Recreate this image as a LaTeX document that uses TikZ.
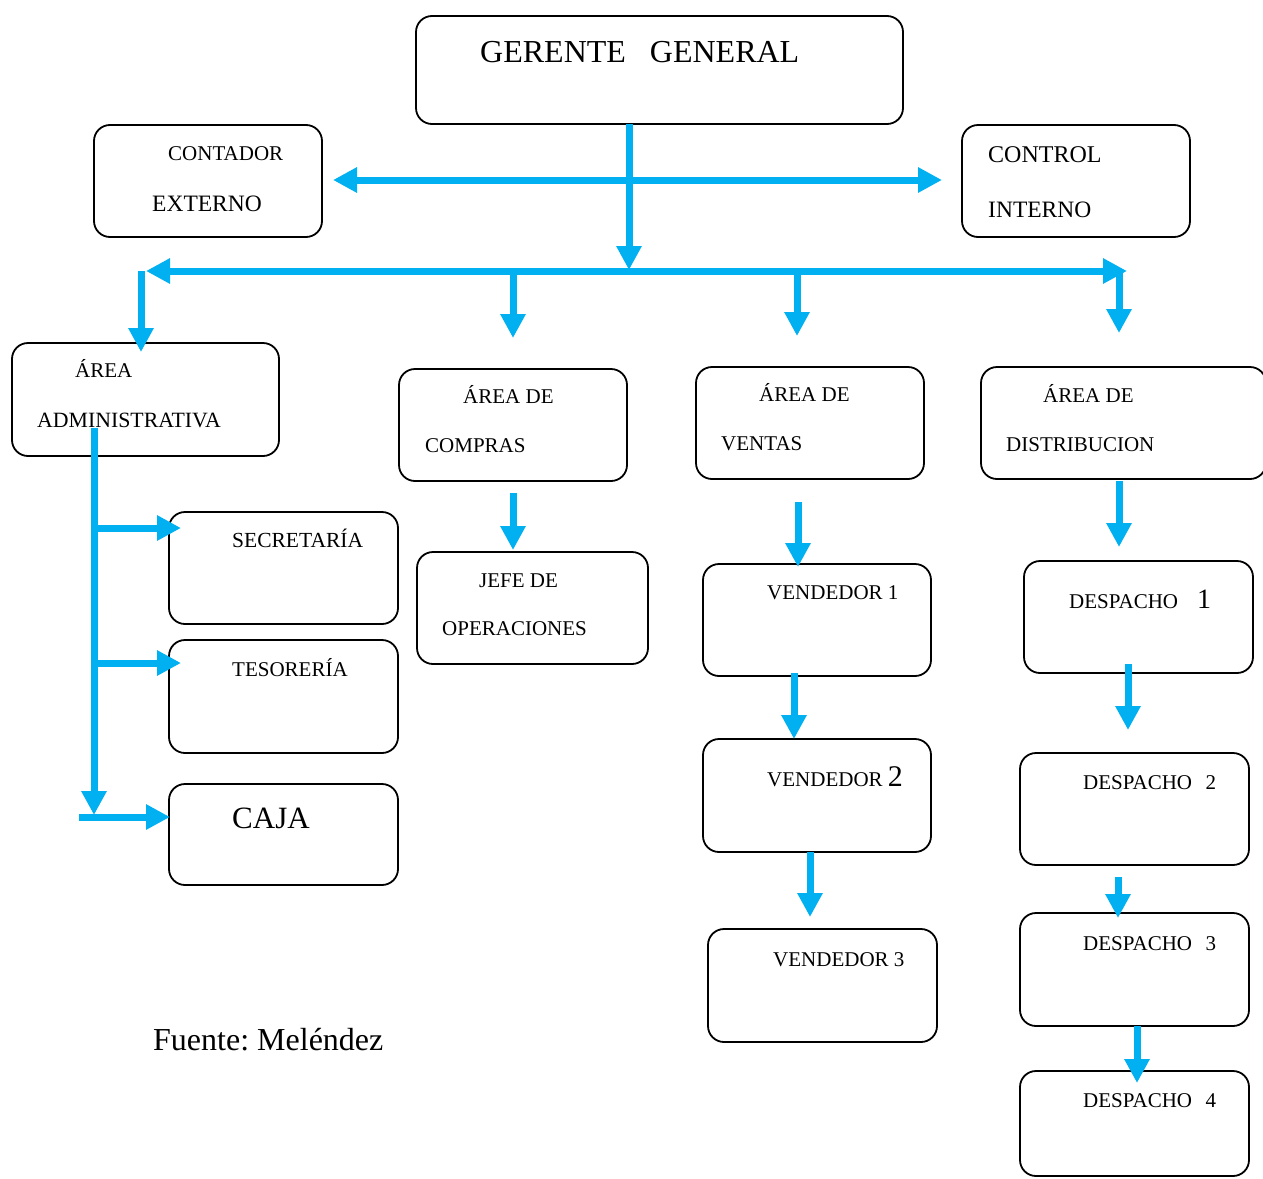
\documentclass[tikz,border=0pt]{standalone}
\usepackage{fontspec}
\setmainfont{Liberation Serif}
\usetikzlibrary{arrows.meta}
\definecolor{arrcol}{HTML}{00B0F0}
\frenchspacing
\begin{document}
\begin{tikzpicture}[x=1pt,y=-1pt,
  box/.style={draw=black, line width=1.8pt, rounded corners=16pt, inner sep=0pt},
  lab/.style={anchor=base west, inner sep=0pt, font=\fontsize{21}{25}\selectfont},
  arr/.style={draw=arrcol, line width=7pt, -{Triangle[length=24pt,width=24pt]}},
  darr/.style={draw=arrcol, line width=7pt, {Triangle[length=24pt,width=24pt]}-{Triangle[length=24pt,width=24pt]}}]
\useasboundingbox (0,0) rectangle (1263,1178);
% boxes
\node[box, minimum width=487pt, minimum height=108pt] (ger)  at (659.5,70) {};
\node[box, minimum width=228pt, minimum height=112pt] (cont) at (208,181) {};
\node[box, minimum width=228pt, minimum height=112pt] (ctrl) at (1076,181) {};
\node[box, minimum width=267pt, minimum height=113pt] (adm)  at (145.5,399.5) {};
\node[box, minimum width=228pt, minimum height=112pt] (comp) at (513,425) {};
\node[box, minimum width=228pt, minimum height=112pt] (vent) at (810,423) {};
\node[box, minimum width=285pt, minimum height=112pt] (dist) at (1123.5,423) {};
\node[box, minimum width=229pt, minimum height=112pt] (sec)  at (283.5,568) {};
\node[box, minimum width=229pt, minimum height=113pt] (tes)  at (283.5,696.5) {};
\node[box, minimum width=229pt, minimum height=101pt] (caja) at (283.5,834.5) {};
\node[box, minimum width=231pt, minimum height=112pt] (jefe) at (532.5,608) {};
\node[box, minimum width=228pt, minimum height=112pt] (va)   at (817,620) {};
\node[box, minimum width=228pt, minimum height=113pt] (vb)   at (817,795.5) {};
\node[box, minimum width=229pt, minimum height=113pt] (vc)   at (822.5,985.5) {};
\node[box, minimum width=229pt, minimum height=112pt] (da)   at (1138.5,617) {};
\node[box, minimum width=229pt, minimum height=112pt] (db)   at (1134.5,809) {};
\node[box, minimum width=229pt, minimum height=113pt] (dc)   at (1134.5,969.5) {};
\node[box, minimum width=229pt, minimum height=105pt] (dd)   at (1134.5,1123.5) {};
% texts
\node[lab, font=\fontsize{32}{38}\selectfont] (tger) at (480,62) {GERENTE~~~GENERAL};
\node[lab] (tcont1) at (168,160) {CONTADOR};
\node[lab, font=\fontsize{23.5}{28}\selectfont] (tcont2) at (152,211) {EXTERNO};
\node[lab, font=\fontsize{24}{28}\selectfont] (tctrl1) at (988,162) {CONTROL};
\node[lab, font=\fontsize{23.5}{28}\selectfont] (tctrl2) at (988,217) {INTERNO};
\node[lab] (tadm1) at (75,377) {ÁREA};
\node[lab, font=\fontsize{21.8}{26}\selectfont] (tadm2) at (37,427) {ADMINISTRATIVA};
\node[lab] (tcomp1) at (463,403) {ÁREA DE};
\node[lab] (tcomp2) at (425,452) {COMPRAS};
\node[lab] (tvent1) at (759,401) {ÁREA DE};
\node[lab] (tvent2) at (721,450) {VENTAS};
\node[lab] (tdist1) at (1043,402) {ÁREA DE};
\node[lab] (tdist2) at (1006,451) {DISTRIBUCION};
\node[lab, font=\fontsize{21.5}{25}\selectfont] (tsec) at (232,547) {SECRETARÍA};
\node[lab] (ttes) at (232,676) {TESORERÍA};
\node[lab, font=\fontsize{31}{36}\selectfont] (tcaja) at (232,828) {CAJA};
\node[lab] (tjefe1) at (479,587) {JEFE DE};
\node[lab] (tjefe2) at (442,635) {OPERACIONES};
\node[lab] (tva) at (767,599) {VENDEDOR 1};
\node[lab] (tvb) at (767,786) {VENDEDOR {\fontsize{30}{34}\selectfont 2}};
\node[lab] (tvc) at (773,966) {VENDEDOR 3};
\node[lab] (tda) at (1069,608) {DESPACHO\hspace{19pt}{\fontsize{28}{32}\selectfont 1}};
\node[lab] (tdb) at (1083,789) {DESPACHO\hspace{13.5pt}2};
\node[lab] (tdc) at (1083,950) {DESPACHO\hspace{13.5pt}3};
\node[lab] (tdd) at (1083,1107) {DESPACHO\hspace{13.5pt}4};
\node[lab, font=\fontsize{32}{37}\selectfont] (tfuente) at (153,1050) {Fuente: Meléndez};
% connector coordinates
\coordinate (hub) at (629,271);
\coordinate (gs) at (629,124);
\coordinate (tl) at (333,180);
\coordinate (tr) at (942,180);
\coordinate (bl) at (146,271);
\coordinate (br) at (1127,271);
\coordinate (s1) at (141,271);  \coordinate (e1) at (141,352);
\coordinate (s2) at (513,271);  \coordinate (e2) at (513,338);
\coordinate (s3) at (797,271);  \coordinate (e3) at (797,336);
\coordinate (s4) at (1119,271); \coordinate (e4) at (1119,333);
\coordinate (as) at (94,428);   \coordinate (ae) at (94,815);
\coordinate (b1s) at (94,528);  \coordinate (b1e) at (181,528);
\coordinate (b2s) at (94,663);  \coordinate (b2e) at (181,663);
\coordinate (b3s) at (79,817);  \coordinate (b3e) at (170,817);
\coordinate (cjs) at (513,493); \coordinate (cje) at (513,550);
\coordinate (v0s) at (798,502); \coordinate (v0e) at (798,567);
\coordinate (v1s) at (794,673); \coordinate (v1e) at (794,739);
\coordinate (v2s) at (810,852); \coordinate (v2e) at (810,917);
\coordinate (d0s) at (1119,481); \coordinate (d0e) at (1119,547);
\coordinate (d1s) at (1128,664); \coordinate (d1e) at (1128,730);
\coordinate (d2s) at (1118,877); \coordinate (d2e) at (1118,918);
\coordinate (d3s) at (1137,1026); \coordinate (d3e) at (1137,1083);
% connectors
\draw[darr] (tl) -- (tr);
\draw[arr] (gs) -- ([yshift=1pt]hub);
\draw[darr] (bl) -- (br);
\draw[arr] (s1) -- (e1);
\draw[arr] (s2) -- (e2);
\draw[arr] (s3) -- (e3);
\draw[arr] (s4) -- (e4);
\draw[arr] (as) -- (ae);
\draw[arr] (b1s) -- (b1e);
\draw[arr] (b2s) -- (b2e);
\draw[arr] (b3s) -- (b3e);
\draw[arr] (cjs) -- (cje);
\draw[arr] (v0s) -- (v0e);
\draw[arr] (v1s) -- (v1e);
\draw[arr] (v2s) -- (v2e);
\draw[arr] (d0s) -- (d0e);
\draw[arr] (d1s) -- (d1e);
\draw[arr] (d2s) -- (d2e);
\draw[arr] (d3s) -- (d3e);
\end{tikzpicture}
\end{document}
